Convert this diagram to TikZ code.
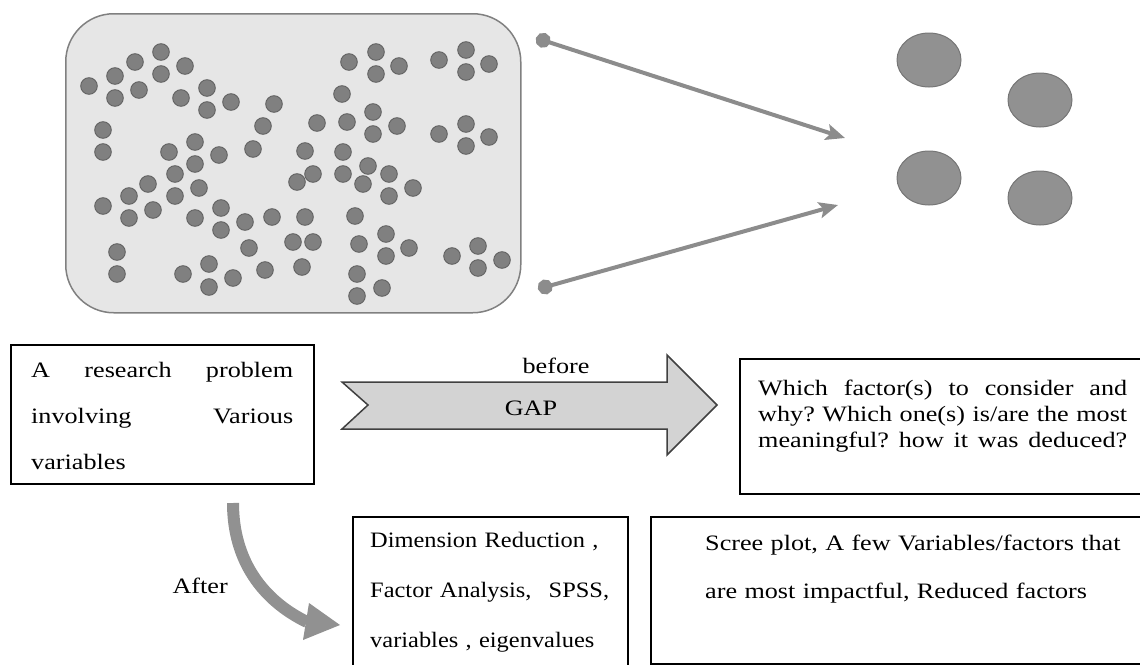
\documentclass[tikz,border=0pt]{standalone}
\usepackage{fontspec}
\setmainfont{Liberation Serif}[FakeStretch=1.19]
\newfontfamily\narrowserif{Liberation Serif}[FakeStretch=1.11]
\usetikzlibrary{arrows.meta,shapes.geometric}
\definecolor{dotfill}{RGB}{128,128,128}
\definecolor{dotline}{RGB}{98,98,98}
\definecolor{panelfill}{RGB}{230,230,230}
\definecolor{panelline}{RGB}{128,128,128}
\definecolor{linegray}{RGB}{140,140,140}
\definecolor{bigdot}{RGB}{145,145,145}
\definecolor{bigdotline}{RGB}{118,118,118}
\definecolor{gapfill}{RGB}{211,211,211}
\definecolor{gapline}{RGB}{64,64,64}
\definecolor{curvegray}{RGB}{145,145,145}
\tikzset{
  smalldot/.style={fill=dotfill,draw=dotline,line width=0.9pt},
  pool/.style={draw=panelline,fill=panelfill,line width=1.5pt,rounded corners=48pt,
    anchor=north west,inner sep=0pt},
  factor/.style={ellipse,fill=bigdot,draw=bigdotline,line width=1pt,
    minimum width=64pt,minimum height=54pt,inner sep=0pt},
  connector/.style={line width=4pt,draw=linegray,
    {Circle[length=15pt]}-{Stealth[length=19pt,width=16pt,inset=4pt]}},
  textbox/.style={draw=black,line width=1.5pt,anchor=north west,inner sep=0pt},
  boxtext/.style={anchor=base west,inner sep=0pt,align=left},
  label/.style={inner sep=0pt,font=\fontsize{22}{26}\selectfont},
  gapshape/.style={fill=gapfill,draw=gapline,line width=1.5pt,line join=miter},
  curvebody/.style={line width=12pt,draw=curvegray,line cap=butt},
}
\begin{document}
\begin{tikzpicture}[x=1pt,y=-1pt]
\useasboundingbox (0,0) rectangle (1140,664);

% panel with many variables
\node[pool,minimum width=455pt,minimum height=299pt] (pool) at (65,13) {};
\foreach \x/\y in {89/86,115/76,135/62,161/52,185/66,115/98,139/90,161/74,181/98,
  207/88,207/110,231/102,274/104,263/126,253/149,103/130,103/152,169/152,195/142,
  219/155,305/151,317/123,349/62,376/52,376/74,399/66,439/60,466/50,466/72,489/64,
  342/94,373/112,373/134,397/126,347/122,343/152,439/134,466/124,466/146,489/137,
  368/166,195/164,175/174,148/184,129/196,175/196,199/188,103/206,129/218,153/210,
  195/218,221/208,221/230,245/222,272/217,297/182,313/174,305/217,293/242,313/242,
  302/267,249/248,265/270,117/252,117/274,183/274,209/264,209/287,233/278,343/174,
  363/184,389/174,389/196,413/188,355/216,359/244,386/234,386/256,409/248,357/274,
  357/296,382/288,452/256,478/246,478/268,502/260}
  \filldraw[smalldot] (\x,\y) circle[radius=8.3pt];

% reduced factors
\node[factor] (f1) at (929,60) {};
\node[factor] (f2) at (1040,100) {};
\node[factor] (f3) at (929,178) {};
\node[factor] (f4) at (1040,198) {};

% connectors
\coordinate (a1s) at (536,38);
\coordinate (a1e) at (845,138);
\coordinate (a2s) at (538,289);
\coordinate (a2e) at (838,205);
\draw[connector] (a1s) -- (a1e);
\draw[connector] (a2s) -- (a2e);

% text boxes
\node[textbox,minimum width=303pt,minimum height=139pt] (b1) at (10,344) {};
\node[boxtext,text width=262pt,font=\fontsize{22}{46}\selectfont] (t1) at (31,377)
  {A\hfill research\hfill problem\\involving\hfill Various\\variables};

\node[textbox,minimum width=408pt,minimum height=135pt] (b3) at (739,358) {};
\node[boxtext,text width=369pt,font=\fontsize{22}{26}\selectfont] (t3) at (758,395)
  {Which\hfill factor(s)\hfill to\hfill consider\hfill and\\
   why?\hfill Which\hfill one(s)\hfill is/are\hfill the\hfill most\\
   meaningful?\hfill how\hfill it\hfill was\hfill deduced?};

\node[textbox,minimum width=275pt,minimum height=152pt] (b4) at (352,516) {};
\node[boxtext,text width=250pt,font=\narrowserif\fontsize{22}{50}\selectfont] (t4) at (370,547)
  {Dimension Reduction ,\\Factor Analysis,\hspace{0.45em} SPSS,\\variables , eigenvalues};

\node[textbox,minimum width=497pt,minimum height=147pt] (b5) at (650,516) {};
\node[boxtext,text width=430pt,font=\fontsize{22}{48}\selectfont] (t5) at (705,550)
  {Scree plot, A few Variables/factors that\\are most impactful, Reduced factors};

% GAP arrow
\filldraw[gapshape] (342,382) -- (667,382) -- (667,355) -- (717,405) -- (667,455)
  -- (667,429) -- (342,429) -- (368,405) -- cycle;
\node[label,anchor=base] (gap) at (531,415) {GAP};
\node[label,anchor=base] (before) at (556,373) {before};

% after arrow
\coordinate (c1) at (233,503);
\coordinate (c2) at (307,622);
\draw[curvebody] (c1) .. controls (233,560) and (262,600) .. (c2);
\fill[curvegray] (309,603) -- (340,625) -- (303,640) -- cycle;
\node[label,anchor=base east] (after) at (228,593) {After};
\end{tikzpicture}
\end{document}
